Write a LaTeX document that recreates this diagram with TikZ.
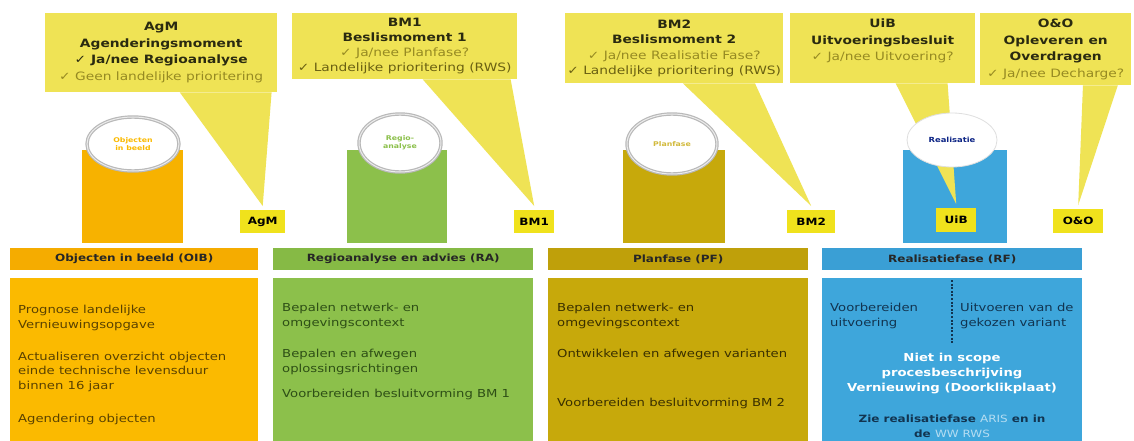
\documentclass[tikz,border=0pt]{standalone}
\usepackage{fontspec}
\setmainfont{DejaVu Sans}[FakeStretch=1.2]
\usetikzlibrary{shapes.geometric,calc}
\definecolor{callY}{HTML}{EFE355}
\definecolor{labY}{HTML}{F0E21C}
\definecolor{orA}{HTML}{FBBA00}
\definecolor{orH}{HTML}{F5AC00}
\definecolor{orC}{HTML}{F7B200}
\definecolor{grA}{HTML}{8CC04B}
\definecolor{grH}{HTML}{86BA45}
\definecolor{olA}{HTML}{C7A90B}
\definecolor{olH}{HTML}{BFA00A}
\definecolor{blA}{HTML}{3EA6DB}
\definecolor{blH}{HTML}{3A9FD5}
\definecolor{chkL}{HTML}{968A22}
\definecolor{chkD}{HTML}{6A6012}
\definecolor{ttl}{HTML}{2A2A10}
\definecolor{txO}{HTML}{5A4200}
\definecolor{txG}{HTML}{2E4F16}
\definecolor{txP}{HTML}{3A3000}
\definecolor{txB}{HTML}{123450}
\definecolor{lnk}{HTML}{B5DDF2}
\begin{document}
\begin{tikzpicture}[x=1pt,y=-1pt,
  callout/.style={fill=callY, inner sep=0pt, anchor=north west, align=center,
    font=\fontsize{11.5}{16.5}\selectfont, text=ttl},
  lab/.style={fill=labY, inner sep=0pt, anchor=north west,
    font=\bfseries\fontsize{10}{12}\selectfont, text=black},
  cyl/.style={inner sep=0pt, anchor=north west},
  top/.style={shape=ellipse, fill=white, draw=gray!55, line width=1.2pt,
    double=gray!15, double distance=1pt, inner sep=0pt, align=center,
    font=\bfseries\fontsize{6.5}{8}\selectfont},
  head/.style={inner sep=0pt, anchor=north west, minimum height=22pt,
    font=\bfseries\fontsize{10}{12}\selectfont, text=black!85},
  body/.style={inner sep=0pt, anchor=north west, minimum height=163pt},
  para/.style={inner sep=0pt, anchor=base west, align=left,
    font=\fontsize{11}{14.5}\selectfont}
]
\useasboundingbox[fill=white] (0,0) rectangle (1134,441);

% cylinder bodies
\node[cyl, fill=orC, minimum width=101pt, minimum height=93pt] (r1) at (82,150) {};
\node[cyl, fill=grA, minimum width=100pt, minimum height=93pt] (r2) at (347,150) {};
\node[cyl, fill=olA, minimum width=102pt, minimum height=93pt] (r3) at (623,150) {};
\node[cyl, fill=blA, minimum width=104pt, minimum height=93pt] (r4) at (903,150) {};

% callouts
\node[callout, minimum width=232pt, minimum height=79pt] (agm) at (45,13)
  {\textbf{AgM}\\\textbf{Agenderingsmoment}\\\textbf{✓ Ja/nee Regioanalyse}\\{\color{chkL}✓ Geen landelijke prioritering}};
\node[callout, minimum width=225pt, minimum height=66pt, font=\fontsize{11.5}{15}\selectfont] (bm1) at (292,13)
  {\textbf{BM1}\\\textbf{Beslismoment 1}\\{\color{chkL}✓ Ja/nee Planfase?}\\{\color{chkD}✓ Landelijke prioritering (RWS)}};
\node[callout, minimum width=218pt, minimum height=70pt, font=\fontsize{11.5}{15.5}\selectfont] (bm2) at (565,13)
  {\textbf{BM2}\\\textbf{Beslismoment 2}\\{\color{chkL}✓ Ja/nee Realisatie Fase?}\\{\color{chkD}✓ Landelijke prioritering (RWS)}};
\node[callout, minimum width=185pt, minimum height=70pt] (uib) at (790,13)
  {\textbf{UiB}\\\textbf{Uitvoeringsbesluit}\\{\color{chkL}✓ Ja/nee Uitvoering?}\\\mbox{}};
\node[callout, minimum width=151pt, minimum height=72pt] (oo) at (980,13)
  {\textbf{O\&O}\\\textbf{Opleveren en}\\\textbf{Overdragen}\\{\color{chkL}✓ Ja/nee Decharge?}};

% milestone labels
\node[lab, minimum width=45pt, minimum height=23pt] (lagm) at (240,210) {AgM};
\node[lab, minimum width=40pt, minimum height=23pt] (lbm1) at (514,210) {BM1};
\node[lab, minimum width=48pt, minimum height=23pt] (lbm2) at (787,210) {BM2};
\node[lab, minimum width=40pt, minimum height=24pt] (luib) at (936,208) {UiB};
\node[lab, minimum width=50pt, minimum height=24pt] (loo) at (1053,209) {O\&O};

% callout tails
\fill[callY] ($(agm.south west)!0.58!(agm.south east)$) -- ($(agm.south west)!0.975!(agm.south east)$) -- ([yshift=4pt]lagm.north) -- cycle;
\fill[callY] ($(bm1.south west)!0.58!(bm1.south east)$) -- ($(bm1.south west)!0.97!(bm1.south east)$) -- ([yshift=4pt]lbm1.north) -- cycle;
\fill[callY] ($(bm2.south west)!0.54!(bm2.south east)$) -- ($(bm2.south west)!0.87!(bm2.south east)$) -- ([yshift=4pt]lbm2.north) -- cycle;
\fill[callY] ($(uib.south west)!0.57!(uib.south east)$) -- ($(uib.south west)!0.85!(uib.south east)$) -- ([yshift=4pt]luib.north) -- cycle;
\fill[callY] ($(oo.south west)!0.68!(oo.south east)$) -- ($(oo.south west)!0.91!(oo.south east)$) -- ([yshift=4pt]loo.north) -- cycle;

% cylinder tops
\node[top, minimum width=92pt, minimum height=54pt, text=orA] (e1) at (133,144) {Objecten\\in beeld};
\node[top, minimum width=82pt, minimum height=58pt, text=grA] (e2) at (400,143) {Regio-\\analyse};
\node[top, minimum width=90pt, minimum height=60pt, text=olA!80] (e3) at (672,144) {Planfase};
\node[shape=ellipse, fill=white, draw=gray!25, line width=0.8pt, inner sep=0pt,
  minimum width=90pt, minimum height=54pt, text=txB!70!blue,
  font=\bfseries\fontsize{7}{9}\selectfont] (e4) at (952,140) {Realisatie};

% phase headers
\node[head, fill=orH, minimum width=248pt] (h1) at (10,248) {Objecten in beeld (OIB)};
\node[head, fill=grH, minimum width=260pt] (h2) at (273,248) {Regioanalyse en advies (RA)};
\node[head, fill=olH, minimum width=260pt] (h3) at (548,248) {Planfase (PF)};
\node[head, fill=blH, minimum width=260pt] (h4) at (822,248) {Realisatiefase (RF)};

% phase bodies
\node[body, fill=orA, minimum width=248pt] (b1) at (10,278) {};
\node[body, fill=grA, minimum width=260pt] (b2) at (273,278) {};
\node[body, fill=olA, minimum width=260pt] (b3) at (548,278) {};
\node[body, fill=blA, minimum width=260pt] (b4) at (822,278) {};

% column 1 (anchor = baseline of last line)
\node[para, text=txO] (t1a) at (18,328) {Prognose landelijke\\Vernieuwingsopgave};
\node[para, text=txO] (t1b) at (18,389) {Actualiseren overzicht objecten\\einde technische levensduur\\binnen 16 jaar};
\node[para, text=txO] (t1c) at (18,422) {Agendering objecten};
% column 2
\node[para, text=txG] (t2a) at (282,326) {Bepalen netwerk- en\\omgevingscontext};
\node[para, text=txG] (t2b) at (282,372) {Bepalen en afwegen\\oplossingsrichtingen};
\node[para, text=txG] (t2c) at (282,397) {Voorbereiden besluitvorming BM 1};
% column 3
\node[para, text=txP] (t3a) at (557,326) {Bepalen netwerk- en\\omgevingscontext};
\node[para, text=txP] (t3b) at (557,357) {Ontwikkelen en afwegen varianten};
\node[para, text=txP] (t3c) at (557,406) {Voorbereiden besluitvorming BM 2};
% column 4
\node[para, text=txB] (t4a) at (830,326) {Voorbereiden\\uitvoering};
\node[para, text=txB] (t4b) at (960,326) {Uitvoeren van de\\gekozen variant};
\coordinate (d1) at (952,280);
\coordinate (d2) at (952,344);
\draw[txB, line width=1.3pt, dash pattern=on 2pt off 1.6pt] (d1) -- (d2);
\node[inner sep=0pt, anchor=base, align=center, text=white,
  font=\bfseries\fontsize{11}{15}\selectfont] (t4c) at (952,391)
  {Niet in scope\\procesbeschrijving\\Vernieuwing (Doorklikplaat)};
\node[inner sep=0pt, anchor=base, align=center, text=txB,
  font=\bfseries\fontsize{10}{15}\selectfont] (t4d) at (952,437)
  {Zie realisatiefase {\mdseries\color{lnk}ARIS} en in\\de {\mdseries\color{lnk}WW RWS}};
\end{tikzpicture}
\end{document}
